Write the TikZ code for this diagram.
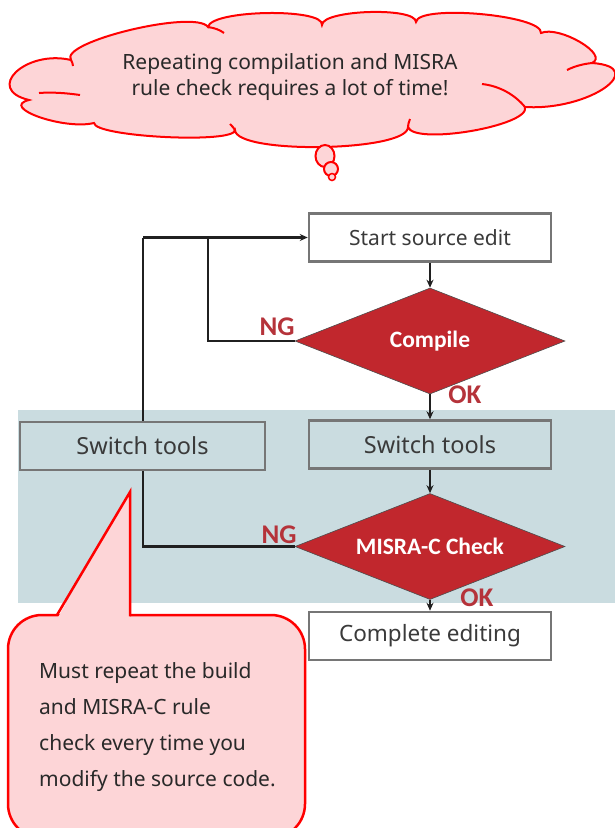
\documentclass[tikz,border=0pt]{standalone}
\usepackage{fontspec}
\setmainfont{Noto Sans}
\newfontfamily\boldsans{Carlito}
\usetikzlibrary{shapes.geometric,arrows.meta}
\definecolor{band}{HTML}{CADCE0}
\definecolor{dred}{HTML}{C1272D}
\definecolor{lblred}{HTML}{B5333A}
\definecolor{boxgray}{HTML}{767676}
\definecolor{txtgray}{HTML}{3A3A3A}
\definecolor{pinkfill}{HTML}{FDD5D7}
\definecolor{calred}{HTML}{FF0000}
\definecolor{linec}{HTML}{202020}
\tikzset{
  flowbox/.style={draw=boxgray, line width=2.5pt, minimum width=242pt, minimum height=48pt, inner sep=0pt, text=txtgray},
  decide/.style={diamond, fill=dred, draw=linec!80, line width=0.6pt, aspect=2.55, minimum width=270pt, minimum height=106pt, inner sep=0pt, text=white, font=\boldsans\bfseries\fontsize{23.5}{26}\selectfont},
  lbl/.style={text=lblred, font=\boldsans\bfseries\fontsize{27}{30}\selectfont, inner sep=0pt},
  conn/.style={draw=linec, line width=2.3pt},
  arr/.style={conn, -{Stealth[length=8pt,width=7pt]}},
  thought/.style={draw=calred, line width=2pt, fill=pinkfill},
  inarc/.style={draw=calred, line width=2pt}
}
\begin{document}
\begin{tikzpicture}[x=1pt,y=-1pt]
\useasboundingbox (0,0) rectangle (615,828);
% band
\fill[band] (18,410) rectangle (615,603);
% cloud
\path[thought] (71,60)
  .. controls (58.3,42) and (195.3,9) .. (208,27)
  .. controls (210.7,9.7) and (324.7,7.7) .. (322,25)
  .. controls (322,9.7) and (416,6.7) .. (416,22)
  .. controls (418,4) and (543,15) .. (541,33)
  .. controls (559,25) and (610,55) .. (592,63)
  .. controls (650,67) and (589.7,111) .. (525,107)
  .. controls (531,125.7) and (414,145.7) .. (408,127)
  .. controls (408.7,151.7) and (235.7,154.7) .. (235,130)
  .. controls (235.7,144) and (94.7,137) .. (94,123)
  .. controls (64,130.3) and (-1,107.3) .. (29,100)
  .. controls (-16.3,89.3) and (25.7,49.3) .. (71,60) -- cycle;
\draw[inarc] (208,27) .. controls (215,28) and (220,30) .. (224,33);
\draw[inarc] (567,70) .. controls (575,66) and (583,64) .. (592,63);
\draw[inarc] (482,84) .. controls (500,86) and (515,95) .. (525,107);
\draw[inarc] (408,127) .. controls (408,124) and (409,122) .. (410,119);
\draw[inarc] (235,130) .. controls (234,128) and (232,126) .. (230,124);
\draw[inarc] (39,93) .. controls (52,92) and (66,93) .. (80,95);
\draw[inarc] (71,60) .. controls (72,62) and (73,64) .. (73,66);
\node[align=center, text=txtgray!70!black, font=\fontsize{21}{26}\selectfont] (cloudtext) at (290,77) {Repeating compilation and MISRA\\rule check requires a lot of time!};
\node[ellipse, thought, minimum width=19pt, minimum height=22pt, inner sep=0pt] (b1) at (325,156) {};
\node[circle, thought, minimum size=14pt, inner sep=0pt] (b2) at (331,169) {};
\node[circle, thought, minimum size=7pt, line width=1.5pt, inner sep=0pt] (b3) at (332,177) {};
% flow
\node[flowbox, fill=white, font=\fontsize{21}{24}\selectfont] (start) at (430,237.5) {Start source edit};
\node[decide] (compile) at (430,341) {Compile};
\node[flowbox, font=\fontsize{23.5}{26}\selectfont] (sw2) at (430,444.5) {Switch tools};
\node[flowbox, minimum width=245pt, font=\fontsize{23.5}{26}\selectfont] (sw1) at (142.5,446) {Switch tools};
\node[decide] (misra) at (430,546.5) {MISRA-C Check};
\node[flowbox, fill=white, font=\fontsize{22.5}{26}\selectfont] (done) at (430,636) {Complete editing};
\node[lbl] (ng1) at (277,327) {NG};
\node[lbl] (ok1) at (465,395) {OK};
\node[lbl] (ng2) at (279,535) {NG};
\node[lbl] (ok2) at (477,598) {OK};
\coordinate (j1) at (143,237.5);
\coordinate (j2) at (208,237.5);
\draw[arr] (start) -- (compile);
\draw[arr] (compile) -- (sw2);
\draw[arr] (sw2) -- (misra);
\draw[arr] (misra) -- (done);
\draw[conn] (compile.west) -| (j2);
\draw[conn] (sw1.north -| j1) -- (j1);
\draw[arr] (j1) -- (start.west);
\draw[conn] (sw1.south -| j1) |- (misra.west);
% callout
\draw[draw=calred, line width=2.5pt, fill=pinkfill, rounded corners=34pt]
  (8,615) rectangle (305,838);
\fill[pinkfill] (57,619) -- (130,492) -- (130,619) -- cycle;
\draw[draw=calred, line width=2.5pt, line join=miter] (57,615) -- (130,492) -- (130,615) -- (131,615);
\node[align=left, anchor=north west, text=txtgray!70!black, font=\fontsize{21}{36}\selectfont, inner sep=0pt] (calltext) at (39,662) {Must repeat the build\\and MISRA-C rule\\check every time you\\modify the source code.};
\end{tikzpicture}
\end{document}
